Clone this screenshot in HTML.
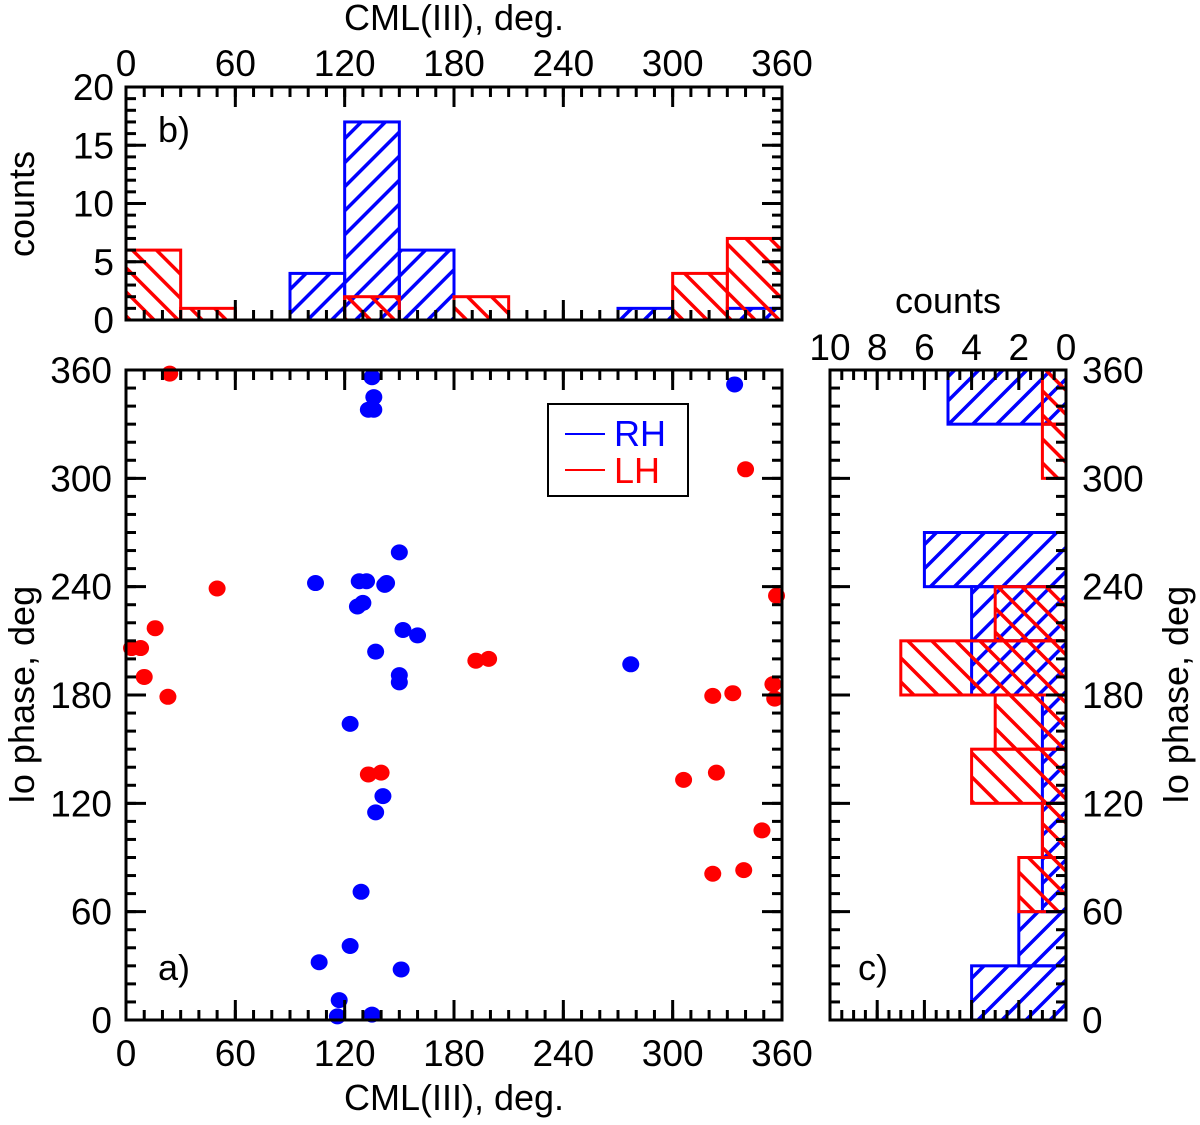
<!DOCTYPE html>
<html><head><meta charset="utf-8"><style>
body{margin:0;background:#fff}
svg text{font-family:"Liberation Sans",Arial,sans-serif;fill:#000}
</style></head><body>
<svg id="s" width="1200" height="1120" viewBox="0 0 1200 1120" xmlns="http://www.w3.org/2000/svg">
<defs>
<pattern id="hb" patternUnits="userSpaceOnUse" width="17" height="17" patternTransform="rotate(45)"><line x1="0" y1="0" x2="0" y2="17" stroke="#0000ff" stroke-width="7"/></pattern>
<pattern id="hr" patternUnits="userSpaceOnUse" width="17" height="17" patternTransform="rotate(-45)"><line x1="0" y1="0" x2="0" y2="17" stroke="#ff0000" stroke-width="7"/></pattern>
</defs>
<g id="gb"></g>
<g id="ga"></g>
<g id="gc"></g>
</svg>
<script>
// data
const binEdges = [0,30,60,90,120,150,180,210,240,270,300,330,360];
const cmlRH = [0,0,0,4,17,6,0,0,0,1,0,1];
const cmlLH = [6,1,0,0,2,0,2,0,0,0,4,7];
const ioRH = [4,2,1,1,1,1,4,4,6,0,0,5];
const ioLH = [0,0,2,1,4,3,7,3,0,0,1,1];
const rhCML = [135,136,133,136,104,128,132,143,142,150,127,130,152,160,137,150,150,123,141,137,129,123,106,151,117,116,135,277,334];
const rhIo  = [356,345,338,338,242,243,243,242,241,259,229,231,216,213,204,191,187,164,124,115,71,41,32,28,11,2,3,197,352];
const lhCML = [24,50,16,3,8,10,23,133,140,192,199,340,357,355,356,333,322,306,324,349,322,339];
const lhIo  = [358,239,217,206,206,190,179,136,137,199,200,305,235,186,178,181,179.5,133,137,105,81,83];
const degTicks = [0,60,120,180,240,300,360];
const countTicksB = [0,5,10,15,20];
const countTicksC = [10,8,6,4,2,0];

const NS="http://www.w3.org/2000/svg";
const FS=37;
function mk(p,t,a){const e=document.createElementNS(NS,t);for(const k in a)e.setAttribute(k,a[k]);p.appendChild(e);return e;}
function txt(p,x,y,s,anchor,size,rot){const e=mk(p,'text',{x:x,y:y,'text-anchor':anchor||'middle','font-size':size||FS});if(rot)e.setAttribute('transform',`rotate(${rot} ${x} ${y})`);e.textContent=s;return e;}

const A={x0:126,x1:782,y0:1020,y1:370};
const B={x0:126,x1:782,y0:320,y1:87};
const C={x0:1066,x1:830,y0:1020,y1:370};
const ax=v=>A.x0+(A.x1-A.x0)*v/360, ay=v=>A.y0+(A.y1-A.y0)*v/360;
const bx=ax, by=v=>B.y0+(B.y1-B.y0)*v/20;
const cx=v=>C.x0+(C.x1-C.x0)*v/10, cy=ay;

function ticksH(g,x0,x1,y,dir,vals,fx,len){vals.forEach(v=>{const x=fx(v);const t=mk(g,'line',{x1:x,y1:y,x2:x,y2:y+dir*len,stroke:'#000','stroke-width':3});});}
function ticksV(g,y,x,dir,vals,fy,len){vals.forEach(v=>{const yy=fy(v);const t=mk(g,'line',{x1:x,y1:yy,x2:x+dir*len,y2:yy,stroke:'#000','stroke-width':3});});}
function range(a,b,s){const r=[];for(let v=a;v<=b+1e-9;v+=s)r.push(v);return r;}

// Panel B
const gb=document.getElementById('gb');
for(let i=0;i<12;i++){
  if(cmlRH[i]>0){const r=mk(gb,'rect',{x:bx(binEdges[i]),y:by(cmlRH[i]),width:bx(binEdges[i+1])-bx(binEdges[i]),height:by(0)-by(cmlRH[i]),fill:'url(#hb)',stroke:'#0000ff','stroke-width':3});
  }
}
for(let i=0;i<12;i++){
  if(cmlLH[i]>0){const r=mk(gb,'rect',{x:bx(binEdges[i]),y:by(cmlLH[i]),width:bx(binEdges[i+1])-bx(binEdges[i]),height:by(0)-by(cmlLH[i]),fill:'url(#hr)',stroke:'#ff0000','stroke-width':3});
  }
}
mk(gb,'rect',{x:B.x0,y:B.y1,width:B.x1-B.x0,height:B.y0-B.y1,fill:'none',stroke:'#000','stroke-width':3});
ticksH(gb,0,0,B.y0,-1,range(0,360,10),bx,10);ticksH(gb,0,0,B.y0,-1,degTicks,bx,20);
ticksH(gb,0,0,B.y1,1,range(0,360,10),bx,10);ticksH(gb,0,0,B.y1,1,degTicks,bx,20);
ticksV(gb,0,B.x0,1,range(0,20,1),by,10);ticksV(gb,0,B.x0,1,countTicksB,by,20);
ticksV(gb,0,B.x1,-1,range(0,20,1),by,10);ticksV(gb,0,B.x1,-1,countTicksB,by,20);
degTicks.forEach(v=>txt(gb,bx(v),76,String(v)));
countTicksB.forEach(v=>txt(gb,114,by(v)+13,String(v),'end'));
txt(gb,454,30,'CML(III), deg.',null,36);
txt(gb,34,204,'counts','middle',36,-90);
txt(gb,158,142,'b)','start',36);

// Panel A
const ga=document.getElementById('ga');
rhCML.forEach((v,i)=>{const c=mk(ga,'ellipse',{cx:ax(v),cy:ay(rhIo[i]),rx:8.5,ry:8,fill:'#0000ff'});});
lhCML.forEach((v,i)=>{const c=mk(ga,'ellipse',{cx:ax(v),cy:ay(lhIo[i]),rx:8.5,ry:8,fill:'#ff0000'});});
mk(ga,'rect',{x:A.x0,y:A.y1,width:A.x1-A.x0,height:A.y0-A.y1,fill:'none',stroke:'#000','stroke-width':3});
const mA=range(0,360,10);
ticksH(ga,0,0,A.y0,-1,mA,ax,10);ticksH(ga,0,0,A.y0,-1,degTicks,ax,20);
ticksH(ga,0,0,A.y1,1,mA,ax,10);ticksH(ga,0,0,A.y1,1,degTicks,ax,20);
ticksV(ga,0,A.x0,1,mA,ay,10);ticksV(ga,0,A.x0,1,degTicks,ay,20);
ticksV(ga,0,A.x1,-1,mA,ay,10);ticksV(ga,0,A.x1,-1,degTicks,ay,20);
degTicks.forEach(v=>txt(ga,ax(v),1066,String(v)));
degTicks.forEach(v=>txt(ga,112,ay(v)+13,String(v),'end'));
txt(ga,454,1110,'CML(III), deg.',null,36);
txt(ga,34,695,'Io phase, deg','middle',36,-90);
txt(ga,158,980,'a)','start',36);
const lg=mk(ga,'g',{});
mk(lg,'rect',{x:548,y:404,width:140,height:92,fill:'#fff',stroke:'#000','stroke-width':2});
mk(lg,'line',{x1:565,y1:434,x2:605,y2:434,stroke:'#0000ff','stroke-width':2});
mk(lg,'line',{x1:565,y1:470,x2:605,y2:470,stroke:'#ff0000','stroke-width':2});
txt(lg,614,446,'RH','start',36).setAttribute('style','fill:#0000ff');
txt(lg,614,483,'LH','start',36).setAttribute('style','fill:#ff0000');

// Panel C
const gc=document.getElementById('gc');
for(let i=0;i<12;i++){
  if(ioRH[i]>0){const r=mk(gc,'rect',{x:cx(ioRH[i]),y:cy(binEdges[i+1]),width:cx(0)-cx(ioRH[i]),height:cy(binEdges[i])-cy(binEdges[i+1]),fill:'url(#hb)',stroke:'#0000ff','stroke-width':3});
  }
}
for(let i=0;i<12;i++){
  if(ioLH[i]>0){const r=mk(gc,'rect',{x:cx(ioLH[i]),y:cy(binEdges[i+1]),width:cx(0)-cx(ioLH[i]),height:cy(binEdges[i])-cy(binEdges[i+1]),fill:'url(#hr)',stroke:'#ff0000','stroke-width':3});
  }
}
mk(gc,'rect',{x:C.x1,y:C.y1,width:C.x0-C.x1,height:C.y0-C.y1,fill:'none',stroke:'#000','stroke-width':3});
const mC=range(0,10,0.5);
ticksH(gc,0,0,C.y0,-1,mC,cx,10);ticksH(gc,0,0,C.y0,-1,countTicksC,cx,20);
ticksH(gc,0,0,C.y1,1,mC,cx,10);ticksH(gc,0,0,C.y1,1,countTicksC,cx,20);
ticksV(gc,0,C.x1,1,mA,cy,10);ticksV(gc,0,C.x1,1,degTicks,cy,20);
ticksV(gc,0,C.x0,-1,mA,cy,10);ticksV(gc,0,C.x0,-1,degTicks,cy,20);
countTicksC.forEach(v=>txt(gc,cx(v),360,String(v)));
degTicks.forEach(v=>txt(gc,1082,cy(v)+13,String(v),'start'));
txt(gc,948,313,'counts',null,36);
txt(gc,1188,695,'Io phase, deg','middle',36,-90);
txt(gc,858,980,'c)','start',36);
</script>
</body></html>
